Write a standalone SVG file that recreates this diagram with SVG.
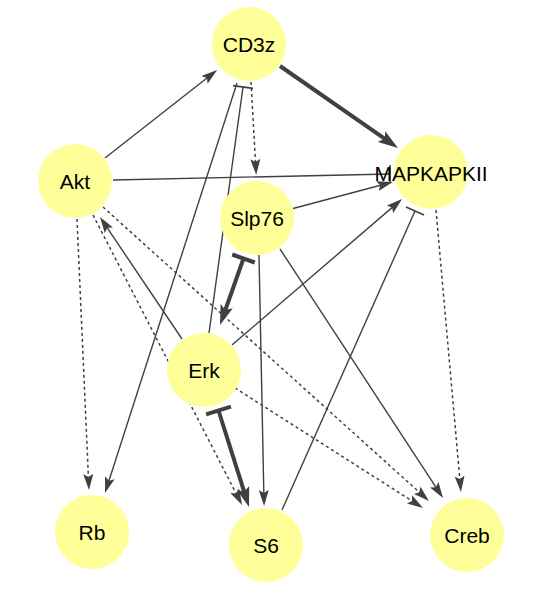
<svg xmlns="http://www.w3.org/2000/svg" width="534" height="590" viewBox="0 0 534 590">
<style>
.e{stroke:#404040;stroke-width:1.4;fill:none}
.d{stroke:#404040;stroke-width:1.5;fill:none;stroke-dasharray:3,3}
.k{stroke:#404040;stroke-width:4;fill:none}
.tb{stroke:#404040;stroke-width:1.6}
.tk{stroke:#404040;stroke-width:4}
.n circle{fill:#ffff99}
.n text{font-family:"Liberation Sans",Arial,sans-serif;font-size:21px;fill:#000;text-anchor:middle}
</style>
<defs>
<marker id="a" viewBox="0 0 16 10" refX="12" refY="5" markerWidth="16" markerHeight="10" markerUnits="userSpaceOnUse" orient="auto"><path d="M0,0 L16,5 L0,10 L3,5 Z" fill="#404040"/></marker>
<marker id="A" viewBox="0 0 20 13" refX="12" refY="6.5" markerWidth="20" markerHeight="13" markerUnits="userSpaceOnUse" orient="auto"><path d="M0,0 L20,6.5 L0,13 L4,6.5 Z" fill="#404040"/></marker>
</defs>
<g id="edges">
<line class="e" x1="105" y1="158" x2="214" y2="72.5" marker-end="url(#a)"/>
<line class="k" x1="280" y1="66" x2="391.4" y2="143.4" marker-end="url(#A)"/>
<line class="e" x1="113" y1="180" x2="390" y2="174"/>
<line class="tb" x1="390" y1="165" x2="390" y2="183"/>
<line class="e" x1="293" y1="208.5" x2="389" y2="183" marker-end="url(#a)"/>
<line class="e" x1="232" y1="345" x2="399" y2="201.6" marker-end="url(#a)"/>
<line class="e" x1="282" y1="510" x2="415" y2="211"/>
<line class="tb" x1="406" y1="207" x2="424" y2="215"/>
<line class="d" x1="436" y1="210" x2="460.6" y2="488" marker-end="url(#a)"/>
<line class="d" x1="251" y1="82" x2="256" y2="171" marker-end="url(#a)"/>
<line class="e" x1="237" y1="83" x2="106.2" y2="489.2" marker-end="url(#a)"/>
<line class="e" x1="209" y1="333" x2="243" y2="87"/>
<line class="tb" x1="233" y1="85.6" x2="253" y2="88.4"/>
<line class="k" x1="243.5" y1="258.5" x2="222.7" y2="317.5" marker-end="url(#A)"/>
<line class="tk" x1="232.2" y1="254.5" x2="254.8" y2="262.5"/>
<line class="k" x1="218.5" y1="410.5" x2="246.6" y2="499.4" marker-end="url(#A)"/>
<line class="tk" x1="206.1" y1="414.4" x2="230.9" y2="406.6"/>
<line class="e" x1="182" y1="339" x2="102.2" y2="220.3" marker-end="url(#a)"/>
<line class="d" x1="77" y1="219" x2="88.8" y2="486" marker-end="url(#a)"/>
<line class="d" x1="93" y1="215" x2="240.2" y2="501.4" marker-end="url(#a)"/>
<line class="d" x1="103" y1="207" x2="426" y2="498.3" marker-end="url(#a)"/>
<line class="d" x1="235" y1="388" x2="419.6" y2="505.8" marker-end="url(#a)"/>
<line class="e" x1="259" y1="255" x2="264" y2="502" marker-end="url(#a)"/>
<line class="e" x1="280" y1="249" x2="440.8" y2="494.7" marker-end="url(#a)"/>
</g>
<g id="CD3z" class="n"><circle cx="249" cy="44" r="37"/><text x="249" y="51.5">CD3z</text></g>
<g id="MAPKAPKII" class="n"><circle cx="431" cy="172" r="37"/><text x="431" y="181">MAPKAPKII</text></g>
<g id="Akt" class="n"><circle cx="75" cy="181" r="37"/><text x="75" y="188.5">Akt</text></g>
<g id="Slp76" class="n"><circle cx="257" cy="218" r="37"/><text x="257" y="225.5">Slp76</text></g>
<g id="Erk" class="n"><circle cx="204" cy="370" r="37"/><text x="204" y="377.5">Erk</text></g>
<g id="S6" class="n"><circle cx="266" cy="545" r="37"/><text x="266" y="552.5">S6</text></g>
<g id="Rb" class="n"><circle cx="92" cy="532" r="37"/><text x="92" y="539.5">Rb</text></g>
<g id="Creb" class="n"><circle cx="467" cy="535" r="37"/><text x="467" y="542.5">Creb</text></g>
</svg>
